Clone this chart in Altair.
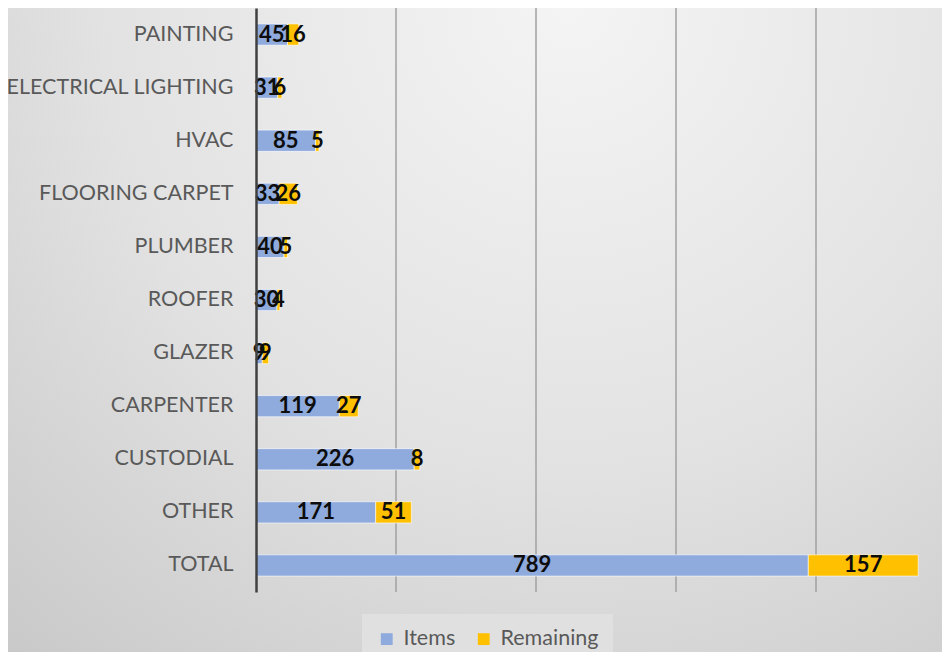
import altair as alt
import pandas as pd

categories = ["PAINTING", "ELECTRICAL LIGHTING", "HVAC", "FLOORING CARPET", "PLUMBER",
              "ROOFER", "GLAZER", "CARPENTER", "CUSTODIAL", "OTHER", "TOTAL"]
items = [45, 31, 85, 33, 40, 30, 9, 119, 226, 171, 789]
remaining = [16, 6, 5, 26, 5, 4, 9, 27, 8, 51, 157]
series = ["Items", "Remaining"]
colors = ["#8FAADC", "#FFC000"]
grid_ticks = [200, 400, 600, 800]

rows = []
for c, a, b in zip(categories, items, remaining):
    rows.append({"category": c, "series": series[0], "order": 0, "value": a})
    rows.append({"category": c, "series": series[1], "order": 1, "value": b})
df = pd.DataFrame(rows)

W, H = 686, 584
PAD = {"left": 248, "top": 0, "right": 0, "bottom": 60}
xscale = alt.Scale(domain=[0, 980], nice=False, zero=True)

yenc = alt.Y("category:N", sort=categories,
             scale=alt.Scale(paddingInner=0.6, paddingOuter=0.3),
             axis=alt.Axis(title=None, ticks=False, grid=False, labelFont="Lato",
                           labelFontSize=21.5, labelColor="#595959", labelPadding=23,
                           domainColor="#404040", domainWidth=2.5, zindex=1,
                           labelLimit=400))

gradient = alt.RadialGradient(
    gradient="radial",
    stops=[alt.GradientStop(color="#f4f4f4", offset=0),
           alt.GradientStop(color="#e2e2e2", offset=0.5),
           alt.GradientStop(color="#c4c4c4", offset=1)],
    x1=0.6, y1=0.15, r1=0, x2=0.6, y2=0.15, r2=1.0)

bg = alt.Chart(pd.DataFrame({"k": [0]})).mark_rect(fill=gradient).encode(
    x=alt.value(-PAD["left"]), x2=alt.value(W),
    y=alt.value(0), y2=alt.value(H + PAD["bottom"]))

rules = alt.Chart(pd.DataFrame({"v": grid_ticks})).mark_rule(
    color="#a0a0a0", strokeWidth=1.5).encode(
    x=alt.X("v:Q", scale=xscale, axis=None))

base = alt.Chart(df).transform_stack(
    stack="value", groupby=["category"], as_=["x0", "x1"],
    sort=[alt.SortField("order", "ascending")]
).transform_calculate(mid="(datum.x0 + datum.x1) / 2")

bars = base.mark_bar(stroke="white", strokeWidth=1, strokeOpacity=0.6).encode(
    y=yenc,
    x=alt.X("x0:Q", scale=xscale, axis=None),
    x2="x1:Q",
    color=alt.Color("series:N", scale=alt.Scale(domain=series, range=colors),
                    legend=alt.Legend(title=None, orient="none", legendX=106, legendY=606,
                                      direction="horizontal", fillColor="#e0e0e0",
                                      padding=14, symbolType="square", symbolSize=140,
                                      symbolStrokeWidth=0, labelFont="Lato",
                                      labelFontSize=21.5, labelColor="#595959",
                                      columnPadding=17, labelOffset=6)),
)

text = base.mark_text(font="Lato", fontWeight="bold", fontSize=22, color="#0d0d0d").encode(
    y=yenc,
    x=alt.X("mid:Q", scale=xscale, axis=None),
    text="value:Q",
)

chart = alt.layer(bg, rules, bars, text).properties(
    width=W, height=H, padding=PAD,
    autosize=alt.AutoSizeParams(type="none"),
    background="#d2d2d2",
).configure_view(stroke=None)

chart.save("out.html", embed_options={"renderer": "svg", "actions": False})
